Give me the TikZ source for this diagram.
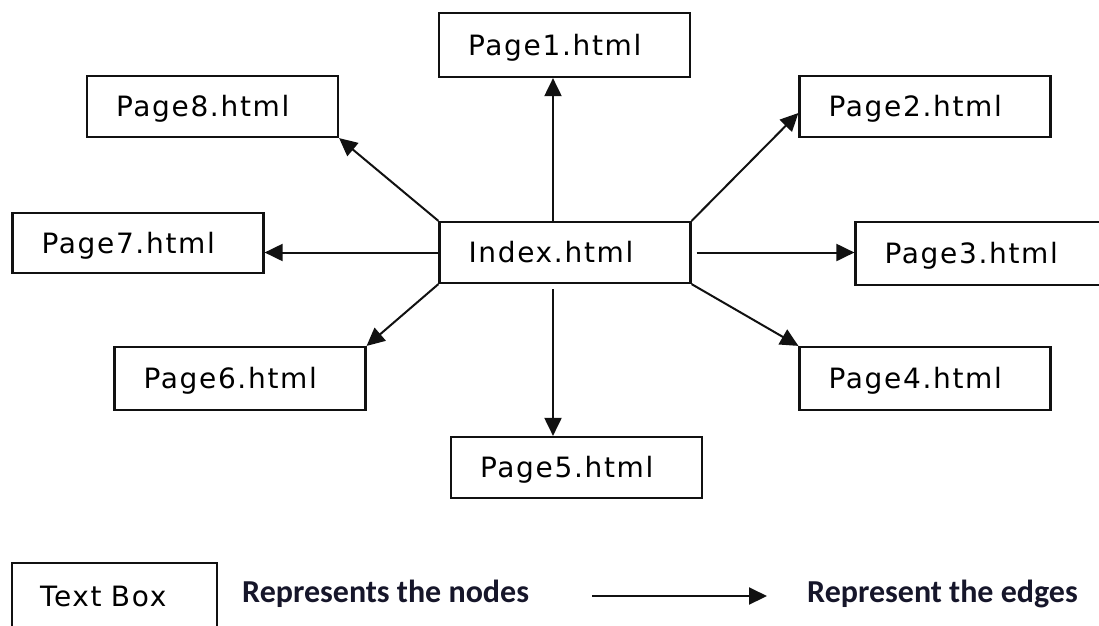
\documentclass[tikz,border=0pt]{standalone}
\usepackage{fontspec}
\setmainfont{DejaVu Sans}
\newfontfamily\boxfont{DejaVu Sans}[LetterSpace=6]
\newfontfamily\legendfont{Carlito}
\usetikzlibrary{arrows.meta}
\definecolor{legendink}{HTML}{16162A}
\definecolor{ink}{HTML}{111111}
\tikzset{
  page/.style={draw=ink, line width=2.2pt, rectangle, minimum height=61pt,
    text width=193pt, inner xsep=29pt, inner ysep=0pt, align=left,
    font=\boxfont\fontsize{28}{30}\selectfont, text height=20pt, text depth=0pt},
  link/.style={draw=ink, line width=2pt, -{Triangle[length=18pt,width=17pt]}},
  legendtext/.style={font=\legendfont\bfseries\fontsize{32}{36}\selectfont,
    text=legendink, anchor=base west, inner sep=0pt}
}
\begin{document}
\begin{tikzpicture}[x=1pt, y=-1pt]
\useasboundingbox (0,0) rectangle (1099,625);

% page nodes around the index page
\node[page, minimum height=64pt] (p1) at (564.5,45) {Page1.html};
\node[page] (p8) at (212.5,106.5) {Page8.html};
\node[page] (p2) at (925,106.5) {Page2.html};
\node[page, minimum height=60pt] (p7) at (138,243) {Page7.html};
\node[page] (idx) at (565,252.5) {Index.html};
\node[page, minimum height=63pt] (p3) at (981,253.5) {Page3.html};
\node[page, minimum height=63pt] (p6) at (240,378.5) {Page6.html};
\node[page, minimum height=63pt] (p4) at (925,378.5) {Page4.html};
\node[page] (p5) at (576.5,467.5) {Page5.html};

% links from the index page
\draw[link] ([xshift=-12pt]idx.north) -- ([xshift=-12pt]idx.north |- p1.south);
\draw[link] (idx.north east) -- ([yshift=-6.5pt]p2.west);
\draw[link] ([xshift=5pt]idx.east) -- (idx.east -| p3.west);
\draw[link] (idx.south east) -- (p4.north west);
\draw[link] ([xshift=-12pt,yshift=-5pt]idx.south) -- ([xshift=-12pt]idx.south |- p5.north);
\draw[link] (idx.south west) -- (p6.north east);
\draw[link] (idx.west) -- (idx.west -| p7.east);
\draw[link] (idx.north west) -- (p8.south east);

% legend
\node[page, text width=149pt, inner xsep=28pt, minimum height=66pt] (tb) at (114.5,596) {Text Box};
\node[legendtext] (nodesnote) at (242,602) {Represents the nodes};
\coordinate (legtail) at (592,596);
\coordinate (leghead) at (767,596);
\draw[link] (legtail) -- (leghead);
\node[legendtext] (edgesnote) at (807,602) {Represent the edges};
\end{tikzpicture}
\end{document}
